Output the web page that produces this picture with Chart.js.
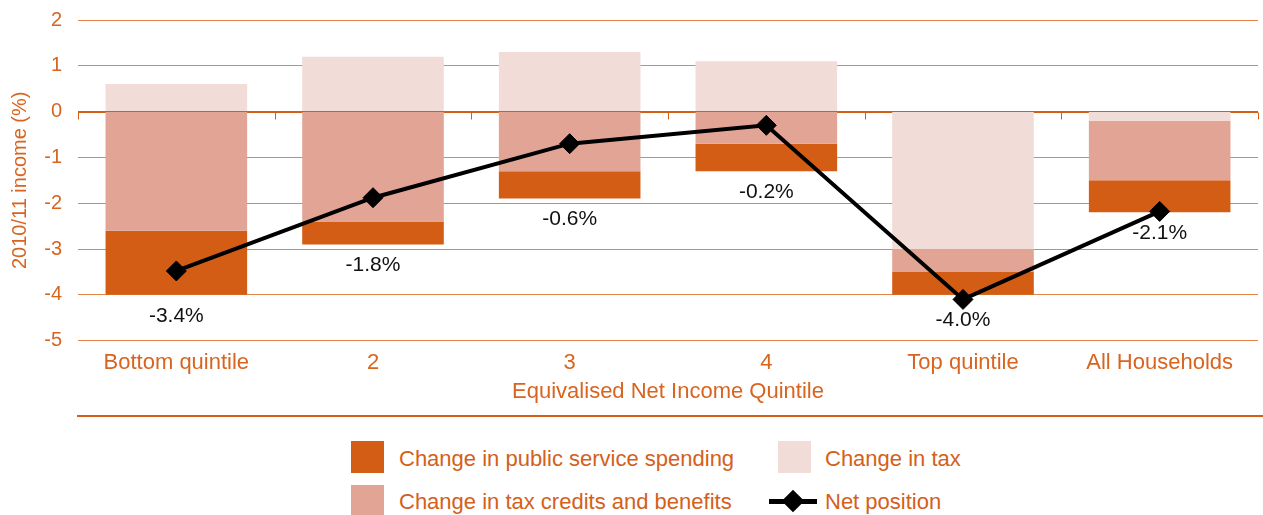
<!DOCTYPE html>
<html>
<head>
<meta charset="utf-8">
<script src="https://cdn.jsdelivr.net/npm/chart.js@4/dist/chart.umd.min.js"></script>
<style>
  html, body { margin: 0; padding: 0; background: #fff; width: 1263px; height: 515px; overflow: hidden; position: relative; }
  #wrap { position: absolute; left: 0; top: 0; width: 1263px; height: 410px; }
  #sep { position: absolute; left: 77px; top: 415px; width: 1186px; height: 2px; background: #D35F15; }
  .sw { position: absolute; width: 33px; }
  .lt { position: absolute; font-family: "Liberation Sans", Arial, sans-serif; font-size: 22px; line-height: 26px; color: #D4601A; white-space: nowrap; }
  #netline { position: absolute; left: 769px; top: 499px; width: 48px; height: 5px; background: #000; }
  #netdia { position: absolute; left: 785px; top: 493px; width: 16px; height: 16px; background: #000; transform: rotate(45deg); }
</style>
</head>
<body>
<div id="wrap"><canvas id="c" width="1263" height="410"></canvas></div>
<div id="sep"></div>
<div id="legend"></div>
<script>
// ---- data ----
const categories = ['Bottom quintile', '2', '3', '4', 'Top quintile', 'All Households'];
const taxChange = [0.6, 1.2, 1.3, 1.1, -3.0, -0.2];
const creditsChange = [-2.6, -2.4, -1.3, -0.7, -0.5, -1.3];
const publicChange = [-1.4, -0.5, -0.6, -0.6, -0.5, -0.7];
const netPosition = [-3.48, -1.88, -0.7, -0.3, -4.1, -2.18];
const netLabels = ['-3.4%', '-1.8%', '-0.6%', '-0.2%', '-4.0%', '-2.1%'];
const yTicks = [2, 1, 0, -1, -2, -3, -4, -5];

const seriesNames = {
  pub: 'Change in public service spending',
  tax: 'Change in tax',
  cred: 'Change in tax credits and benefits',
  net: 'Net position'
};

const COLORS = { pub: '#D35D14', cred: '#E1A495', tax: '#F1DCD7', net: '#000000' };
const TEXT = '#D8641F';
const FONT = '"Liberation Sans", Arial, sans-serif';

// ---- legend (HTML) ----
const legend = document.getElementById('legend');
function addSwatch(left, top, h, color) {
  const d = document.createElement('div');
  d.className = 'sw'; d.style.left = left + 'px'; d.style.top = top + 'px';
  d.style.height = h + 'px'; d.style.background = color; legend.appendChild(d);
}
function addText(left, top, txt) {
  const d = document.createElement('div');
  d.className = 'lt'; d.style.left = left + 'px'; d.style.top = top + 'px';
  d.textContent = txt; legend.appendChild(d);
}
addSwatch(351, 441, 32, COLORS.pub); addText(399, 446, seriesNames.pub);
addSwatch(778, 441, 32, COLORS.tax); addText(825, 446, seriesNames.tax);
addSwatch(351, 485, 30, COLORS.cred); addText(399, 489, seriesNames.cred);
const nl = document.createElement('div'); nl.id = 'netline'; legend.appendChild(nl);
const nd = document.createElement('div'); nd.id = 'netdia'; legend.appendChild(nd);
addText(825, 489, seriesNames.net);

// ---- plugins ----
const zeroTicks = {
  id: 'zeroTicks',
  beforeDatasetsDraw(chart) {
    const x = chart.scales.x, y = chart.scales.y, ctx = chart.ctx;
    const y0 = Math.round(y.getPixelForValue(0)) + 0.5;
    const half = (x.getPixelForValue(1) - x.getPixelForValue(0)) / 2;
    ctx.save();
    ctx.strokeStyle = '#D35F15';
    ctx.lineWidth = 1;
    ctx.beginPath(); ctx.moveTo(chart.chartArea.left, y0); ctx.lineTo(chart.chartArea.right, y0); ctx.stroke();
    for (let i = 0; i <= categories.length; i++) {
      const bx = Math.round(x.getPixelForValue(i) - half) + 0.5;
      ctx.beginPath(); ctx.moveTo(bx, y0); ctx.lineTo(bx, y0 + 7); ctx.stroke();
    }
    ctx.restore();
  }
};

const netValueLabels = {
  id: 'netValueLabels',
  afterDatasetsDraw(chart) {
    const x = chart.scales.x, y = chart.scales.y, ctx = chart.ctx;
    ctx.save();
    ctx.font = '21px ' + FONT;
    ctx.fillStyle = '#111';
    ctx.textAlign = 'center';
    ctx.textBaseline = 'middle';
    for (let i = 0; i < categories.length; i++) {
      let neg = 0;
      [taxChange, creditsChange, publicChange].forEach(a => { if (a[i] < 0) neg += a[i]; });
      const yb = Math.max(y.getPixelForValue(neg), y.getPixelForValue(netPosition[i]));
      ctx.fillText(netLabels[i], x.getPixelForValue(i), yb + 21);
    }
    ctx.restore();
  }
};

// ---- chart ----
new Chart(document.getElementById('c'), {
  data: {
    labels: categories,
    datasets: [
      { type: 'line', label: seriesNames.net, data: netPosition, stack: 'net', order: 0,
        borderColor: COLORS.net, backgroundColor: COLORS.net, borderWidth: 4,
        pointStyle: 'rectRot', pointRadius: 10, pointBorderWidth: 1, pointBackgroundColor: '#000',
        pointBorderColor: '#000', tension: 0 },
      { type: 'bar', label: seriesNames.tax, data: taxChange, stack: 'bars', order: 1,
        backgroundColor: COLORS.tax, barPercentage: 0.72, categoryPercentage: 1 },
      { type: 'bar', label: seriesNames.cred, data: creditsChange, stack: 'bars', order: 1,
        backgroundColor: COLORS.cred, barPercentage: 0.72, categoryPercentage: 1 },
      { type: 'bar', label: seriesNames.pub, data: publicChange, stack: 'bars', order: 1,
        backgroundColor: COLORS.pub, barPercentage: 0.72, categoryPercentage: 1 }
    ]
  },
  options: {
    responsive: false,
    animation: false,
    events: [],
    layout: { autoPadding: false, padding: { top: 20, right: 5, bottom: 7, left: 0 } },
    plugins: { legend: { display: false }, tooltip: { enabled: false } },
    scales: {
      x: {
        stacked: true,
        offset: true,
        grid: { display: false, drawTicks: false },
        border: { display: false },
        ticks: { color: TEXT, font: { family: FONT, size: 22 }, padding: 9, maxRotation: 0, autoSkip: false },
        title: { display: true, text: 'Equivalised Net Income Quintile', color: TEXT,
                 font: { family: FONT, size: 22, lineHeight: 1 }, padding: { top: -4, bottom: 0 } }
      },
      y: {
        stacked: true,
        min: Math.min(...yTicks), max: Math.max(...yTicks),
        afterBuildTicks: s => { s.ticks = yTicks.map(v => ({ value: v })); },
        afterFit: s => { s.width = 78; s.paddingTop = 0; s.paddingBottom = 0; },
        grid: {
          drawTicks: false,
          color: c => (c.tick && c.tick.value === 0) ? '#D35F15' : '#E4864A',
          lineWidth: 1
        },
        border: { display: false },
        ticks: { color: TEXT, font: { family: FONT, size: 20 }, padding: 16,
                 callback: v => String(v) },
        title: { display: true, text: '2010/11 income (%)', color: TEXT,
                 font: { family: FONT, size: 20 }, padding: { top: 8, bottom: 4 } }
      }
    }
  },
  plugins: [zeroTicks, netValueLabels]
});
</script>
</body>
</html>
